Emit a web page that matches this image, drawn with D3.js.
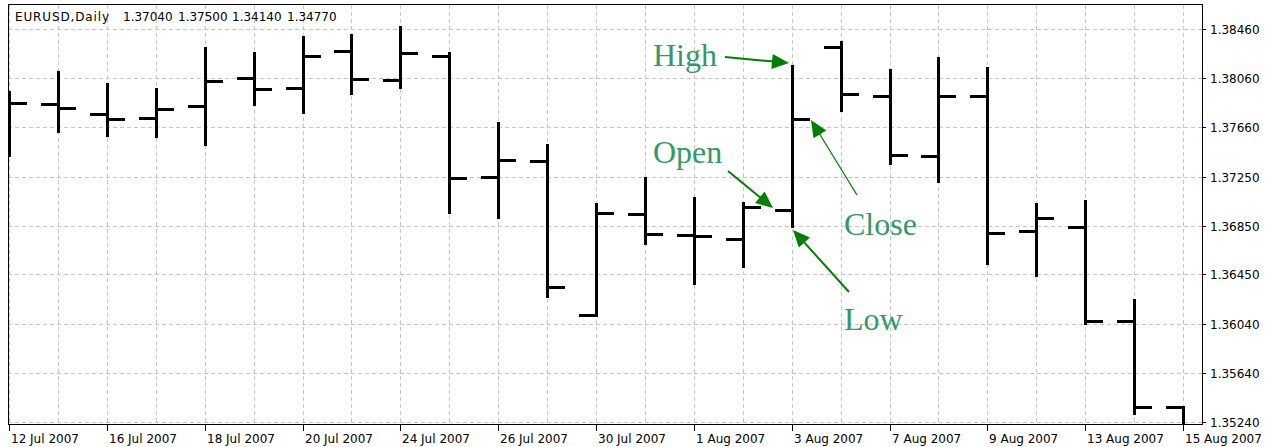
<!DOCTYPE html>
<html>
<head>
<meta charset="utf-8">
<script src="https://cdn.jsdelivr.net/npm/d3@7"></script>
<style>
  body { margin: 0; background: #fff; }
  svg { display: block; }
  .lbl { font-family: "DejaVu Sans", sans-serif; font-size: 12px; fill: #000; }
  .note { font-family: "Liberation Serif", "Times New Roman", serif; font-size: 32px; fill: #339966; }
</style>
</head>
<body>
<script>
var dates = ["12 Jul 2007", "13 Jul 2007", "16 Jul 2007", "17 Jul 2007", "18 Jul 2007",
  "19 Jul 2007", "20 Jul 2007", "23 Jul 2007", "24 Jul 2007", "25 Jul 2007",
  "26 Jul 2007", "27 Jul 2007", "30 Jul 2007", "31 Jul 2007", "1 Aug 2007",
  "2 Aug 2007", "3 Aug 2007", "6 Aug 2007", "7 Aug 2007", "8 Aug 2007",
  "9 Aug 2007", "10 Aug 2007", "13 Aug 2007", "14 Aug 2007", "15 Aug 2007"];

var open = [1.37878, 1.37846, 1.37764, 1.37731, 1.37829, 1.38059, 1.37977, 1.38280, 1.38042, 1.38239,
  1.37247, 1.37378, 1.36117, 1.36944, 1.36772, 1.36739, 1.36977, 1.38313, 1.37911, 1.37419,
  1.37911, 1.36805, 1.36838, 1.36068, 1.35363];
var high = [1.37952, 1.38116, 1.38018, 1.37977, 1.38313, 1.38272, 1.38403, 1.38419, 1.38485, 1.38272,
  1.37698, 1.37518, 1.37034, 1.37247, 1.37083, 1.37043, 1.38165, 1.38362, 1.38132, 1.38231,
  1.38149, 1.37034, 1.37059, 1.36248, 1.35371];
var low = [1.37411, 1.37608, 1.37575, 1.37567, 1.37501, 1.37829, 1.37764, 1.37919, 1.37968, 1.36944,
  1.36903, 1.36256, 1.36100, 1.36690, 1.36362, 1.36502, 1.36830, 1.37780, 1.37346, 1.37198,
  1.36526, 1.36428, 1.36035, 1.35297, 1.34900];
var close = [1.37854, 1.37813, 1.37723, 1.37805, 1.38034, 1.37968, 1.38239, 1.38050, 1.38263, 1.37239,
  1.37387, 1.36346, 1.36952, 1.36780, 1.36764, 1.37002, 1.37723, 1.37927, 1.37428, 1.37911,
  1.36789, 1.36911, 1.36068, 1.35363, 1.35100];

var xTickLabels = ["12 Jul 2007", "16 Jul 2007", "18 Jul 2007", "20 Jul 2007", "24 Jul 2007",
  "26 Jul 2007", "30 Jul 2007", "1 Aug 2007", "3 Aug 2007", "7 Aug 2007", "9 Aug 2007",
  "13 Aug 2007", "15 Aug 2007"];
var yTicks = [1.38460, 1.38060, 1.37660, 1.37250, 1.36850, 1.36450, 1.36040, 1.35640, 1.35240];

var title = "EURUSD,Daily";
var titleValues = ["1.37040", "1.37500", "1.34140", "1.34770"];

var width = 1270, height = 447;
var plot = { left: 8, top: 5, right: 1202, bottom: 424 };

var svg = d3.select("body").append("svg")
    .attr("width", width)
    .attr("height", height);

var x = d3.scalePoint()
    .domain(dates)
    .range([9, 1183]);

var y = d3.scaleLinear()
    .domain([1.35240, 1.38460])
    .range([422, 29]);

// grid
var grid = svg.append("g")
    .attr("stroke", "#c6c6c6")
    .attr("stroke-width", 1)
    .attr("stroke-dasharray", "4,3")
    .attr("shape-rendering", "crispEdges");

grid.selectAll(".vgrid")
    .data(dates)
  .enter().append("line")
    .attr("x1", function(d) { return Math.round(x(d)) + 0.5; })
    .attr("x2", function(d) { return Math.round(x(d)) + 0.5; })
    .attr("y1", plot.top)
    .attr("y2", plot.bottom);

grid.selectAll(".hgrid")
    .data(yTicks)
  .enter().append("line")
    .attr("x1", plot.left)
    .attr("x2", plot.right)
    .attr("y1", function(d) { return Math.round(y(d)) + 0.5; })
    .attr("y2", function(d) { return Math.round(y(d)) + 0.5; });

// bars
svg.append("clipPath")
    .attr("id", "clip")
  .append("rect")
    .attr("x", plot.left + 1)
    .attr("y", plot.top + 1)
    .attr("width", plot.right - plot.left - 1)
    .attr("height", plot.bottom - plot.top - 1);

var tick = 17;

var bars = svg.append("g")
    .attr("clip-path", "url(#clip)")
    .attr("stroke", "#000")
    .attr("stroke-width", 3)
    .attr("shape-rendering", "crispEdges")
  .selectAll(".bar")
    .data(dates)
  .enter().append("g")
    .attr("class", "bar");

bars.append("line")
    .attr("x1", function(d) { return Math.round(x(d)) + 0.5; })
    .attr("x2", function(d) { return Math.round(x(d)) + 0.5; })
    .attr("y1", function(d, i) { return Math.round(y(high[i])); })
    .attr("y2", function(d, i) { return Math.round(y(low[i])); });

bars.append("line")
    .attr("x1", function(d) { return Math.round(x(d)) - tick; })
    .attr("x2", function(d) { return Math.round(x(d)); })
    .attr("y1", function(d, i) { return Math.round(y(open[i])) + 0.5; })
    .attr("y2", function(d, i) { return Math.round(y(open[i])) + 0.5; });

bars.append("line")
    .attr("x1", function(d) { return Math.round(x(d)) + 1; })
    .attr("x2", function(d) { return Math.round(x(d)) + 1 + tick; })
    .attr("y1", function(d, i) { return Math.round(y(close[i])) + 0.5; })
    .attr("y2", function(d, i) { return Math.round(y(close[i])) + 0.5; });

// frame
svg.append("rect")
    .attr("x", plot.left + 0.5)
    .attr("y", plot.top - 0.5)
    .attr("width", plot.right - plot.left)
    .attr("height", plot.bottom - plot.top + 1)
    .attr("fill", "none")
    .attr("stroke", "#000")
    .attr("stroke-width", 1)
    .attr("shape-rendering", "crispEdges");

// right axis
var yAxis = svg.append("g");
yAxis.selectAll("line")
    .data(yTicks)
  .enter().append("line")
    .attr("x1", plot.right + 0.5)
    .attr("x2", plot.right + 4)
    .attr("y1", function(d) { return Math.round(y(d)) + 0.5; })
    .attr("y2", function(d) { return Math.round(y(d)) + 0.5; })
    .attr("stroke", "#000")
    .attr("shape-rendering", "crispEdges");
yAxis.selectAll("text")
    .data(yTicks)
  .enter().append("text")
    .attr("class", "lbl")
    .attr("x", 1210)
    .attr("y", function(d) { return Math.round(y(d)) + 5; })
    .text(function(d) { return d.toFixed(5); });

// bottom axis
var xAxis = svg.append("g");
xAxis.selectAll("line")
    .data(xTickLabels)
  .enter().append("line")
    .attr("x1", function(d) { return Math.round(x(d)) + 0.5; })
    .attr("x2", function(d) { return Math.round(x(d)) + 0.5; })
    .attr("y1", plot.bottom)
    .attr("y2", plot.bottom + 7)
    .attr("stroke", "#000")
    .attr("shape-rendering", "crispEdges");
xAxis.selectAll("text")
    .data(xTickLabels)
  .enter().append("text")
    .attr("class", "lbl")
    .attr("x", function(d) { return Math.round(x(d)) + 2; })
    .attr("y", 443)
    .text(function(d) { return d; });

// title
svg.append("text")
    .attr("class", "lbl")
    .attr("x", 15)
    .attr("y", 21)
    .attr("textLength", 94)
    .attr("lengthAdjust", "spacing")
    .text(title);
var titleX = [123, 178, 232, 287];
svg.selectAll(".tval")
    .data(titleValues)
  .enter().append("text")
    .attr("class", "lbl")
    .attr("x", function(d, i) { return titleX[i]; })
    .attr("y", 21)
    .text(function(d) { return d; });

// annotations on the 3 Aug bar
var ni = dates.indexOf("3 Aug 2007");
var bx = Math.round(x(dates[ni]));
var notes = [
  { label: "High",  tx: 653, ty: 66,  from: [725, 57],  to: [bx - 3, y(high[ni]) - 2],   w: 2 },
  { label: "Open",  tx: 653, ty: 163, from: [728, 171], to: [bx - 19, y(open[ni]) - 2],  w: 2 },
  { label: "Close", tx: 844, ty: 235, from: [857, 195], to: [bx + 19, y(close[ni]) + 1], w: 1.3 },
  { label: "Low",   tx: 844, ty: 330, from: [849, 292], to: [bx + 1, y(low[ni]) + 2],    w: 2 }
];

var ann = svg.append("g");
notes.forEach(function(n) {
  var dx = n.to[0] - n.from[0], dy = n.to[1] - n.from[1];
  var len = Math.sqrt(dx * dx + dy * dy);
  var ux = dx / len, uy = dy / len;
  var hl = 17, hw = 7.5;
  var bxp = n.to[0] - ux * hl, byp = n.to[1] - uy * hl;
  ann.append("line")
      .attr("x1", n.from[0]).attr("y1", n.from[1])
      .attr("x2", bxp + ux * 2).attr("y2", byp + uy * 2)
      .attr("stroke", "#008000")
      .attr("stroke-width", n.w);
  ann.append("polygon")
      .attr("points", [
        [n.to[0], n.to[1]],
        [bxp - uy * hw, byp + ux * hw],
        [bxp + uy * hw, byp - ux * hw]
      ].map(function(p) { return p.join(","); }).join(" "))
      .attr("fill", "#008000");
  ann.append("text")
      .attr("class", "note")
      .attr("x", n.tx)
      .attr("y", n.ty)
      .text(n.label);
});
</script>
</body>
</html>
